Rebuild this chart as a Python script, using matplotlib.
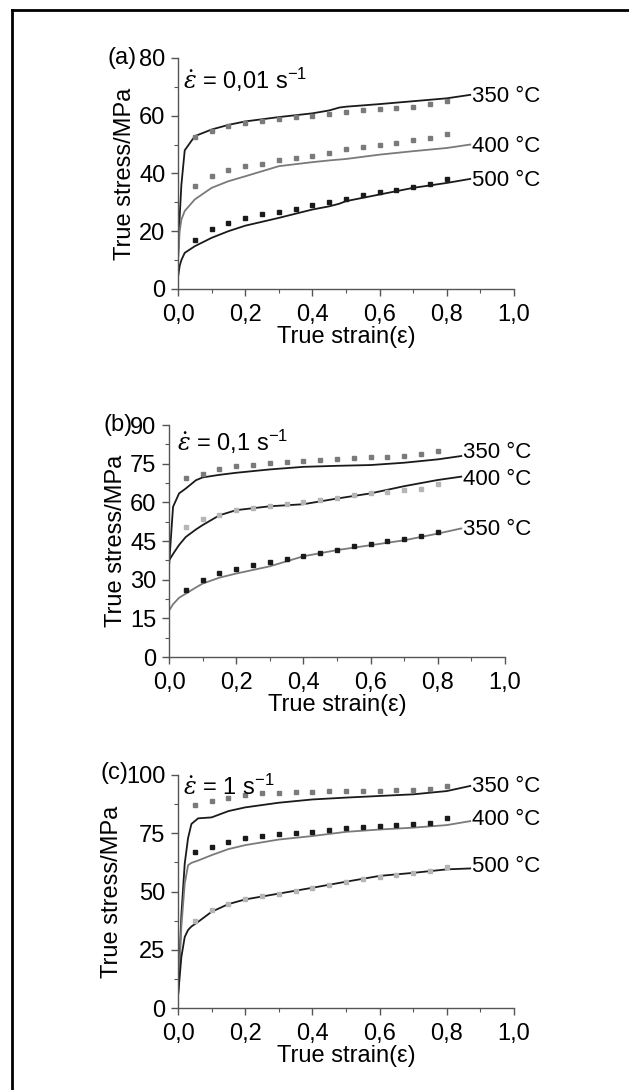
import matplotlib
matplotlib.use("Agg")
import matplotlib.pyplot as plt
from matplotlib.ticker import MultipleLocator, FuncFormatter
from matplotlib.lines import Line2D

plt.rcParams['font.family'] = ['Liberation Sans', 'DejaVu Sans']
plt.rcParams['mathtext.fontset'] = 'dejavuserif'

# experimental points (squares), same strain grid for all panels
strain_pts = [0.05, 0.10, 0.15, 0.20, 0.25, 0.30, 0.35, 0.40,
              0.45, 0.50, 0.55, 0.60, 0.65, 0.70, 0.75, 0.80]

# ---- panel (a): 0,01 s-1
a_line_x = [0.0, 0.005, 0.01, 0.02, 0.05, 0.10, 0.15, 0.20, 0.30, 0.40, 0.45, 0.48, 0.50, 0.60, 0.70, 0.80, 0.87]
a_350_line = [10, 25, 36, 48, 52.9, 55.2, 56.8, 58.0, 59.5, 60.8, 61.8, 62.8, 63.1, 64.0, 65.0, 66.0, 67.2]
a_400_line = [10, 20, 24, 27, 31.0, 35.0, 37.3, 39.0, 42.5, 43.9, 44.5, 44.8, 45.0, 46.5, 47.7, 48.8, 50.0]
a_500_line = [4, 8, 10, 12.5, 14.8, 17.7, 20.0, 21.9, 24.6, 27.5, 28.6, 29.5, 30.4, 32.7, 35.0, 36.7, 38.1]
a_350_pts = [52.7, 54.6, 56.4, 57.5, 58.3, 58.9, 59.5, 60.0, 60.6, 61.3, 61.9, 62.4, 62.7, 63.0, 63.9, 65.2]
a_400_pts = [35.6, 39.0, 41.1, 42.5, 43.4, 44.5, 45.4, 46.2, 47.1, 48.3, 49.0, 49.8, 50.6, 51.4, 52.1, 53.5]
a_500_pts = [17.1, 20.6, 22.9, 24.4, 25.8, 26.7, 27.7, 29.0, 30.1, 31.3, 32.7, 33.6, 34.4, 35.3, 36.4, 37.9]
a_label_y = [66.5, 49.4, 37.6]

# ---- panel (b): 0,1 s-1
b_line_x = [0.0, 0.005, 0.012, 0.03, 0.05, 0.08, 0.10, 0.15, 0.20, 0.30, 0.40, 0.50, 0.60, 0.70, 0.80, 0.87]
b_350_line = [35, 45, 58.3, 63.5, 65.4, 68.6, 69.7, 70.7, 71.5, 72.8, 73.8, 74.2, 74.5, 75.4, 76.7, 78.0]
b_400_line = [37.6, 38.5, 40.0, 43.5, 46.6, 49.5, 51.2, 55.0, 57.0, 58.5, 59.3, 61.5, 63.5, 66.3, 68.7, 70.0]
b_350b_line = [18.1, 19.0, 20.5, 23.0, 24.6, 27.0, 28.5, 30.8, 32.4, 35.2, 39.1, 41.5, 43.4, 45.3, 47.9, 49.9]
b_350_pts = [69.3, 71.2, 72.8, 74.1, 74.7, 75.4, 75.6, 76.0, 76.4, 76.8, 77.2, 77.5, 77.7, 78.0, 78.6, 79.9]
b_400_pts = [50.5, 53.4, 55.3, 57.0, 58.0, 58.7, 59.3, 60.1, 61.1, 61.9, 62.8, 63.5, 64.1, 64.8, 65.4, 67.1]
b_350b_pts = [25.9, 29.8, 32.6, 34.3, 35.9, 36.7, 38.0, 39.1, 40.4, 41.7, 43.1, 44.0, 44.9, 45.7, 46.9, 48.6]
b_label_y = [79.5, 68.9, 49.5]

# ---- panel (c): 1 s-1
c_line_x = [0.0, 0.01, 0.02, 0.03, 0.04, 0.06, 0.10, 0.15, 0.20, 0.30, 0.40, 0.50, 0.60, 0.70, 0.80, 0.87]
c_350_line = [5, 40, 62, 73, 79, 81.4, 81.8, 84.5, 86.1, 88.1, 89.5, 90.3, 91.0, 91.7, 93.1, 95.3]
c_400_line = [5, 35, 53.4, 61.3, 62.3, 63.3, 65.6, 68.2, 69.9, 72.3, 73.8, 75.6, 76.6, 77.4, 78.5, 80.2]
c_500_line = [5, 21.9, 30.5, 33.5, 35.0, 37.0, 41.3, 44.6, 46.6, 49.1, 51.6, 54.2, 56.7, 58.0, 59.5, 59.9]
c_350_pts = [87.1, 88.8, 90.3, 91.4, 92.1, 92.4, 92.7, 92.8, 93.0, 93.1, 93.3, 93.3, 93.4, 93.4, 93.8, 95.3]
c_400_pts = [66.8, 69.2, 71.3, 72.8, 73.8, 74.5, 75.2, 75.6, 76.6, 77.4, 77.8, 78.2, 78.5, 78.9, 79.5, 81.4]
c_500_pts = [37.4, 42.0, 44.8, 46.7, 48.0, 49.1, 50.3, 51.3, 52.7, 53.9, 55.3, 56.3, 57.0, 58.0, 58.7, 60.6]
c_label_y = [95.0, 81.0, 60.6]

BLACK = '#1a1a1a'
GRAY = '#7a7a7a'
LGRAY = '#b5b5b5'

panels = [
    dict(pos=[0.283, 0.7349, 0.534, 0.212], tag='(a)', tag_x=-0.122, tag_y=1.0,
         ymax=80, ystep=20, rate='0,01', rate_xy=(0.015, 0.905), x=a_line_x, label_y=a_label_y,
         curves=[(a_350_line, BLACK, a_350_pts, GRAY, '350 °C'),
                 (a_400_line, GRAY, a_400_pts, GRAY, '400 °C'),
                 (a_500_line, BLACK, a_500_pts, BLACK, '500 °C')]),
    dict(pos=[0.2687, 0.3972, 0.534, 0.2128], tag='(b)', tag_x=-0.107, tag_y=1.0,
         ymax=90, ystep=15, rate='0,1', rate_xy=(0.024, 0.927), x=b_line_x, label_y=b_label_y,
         curves=[(b_350_line, BLACK, b_350_pts, GRAY, '350 °C'),
                 (b_400_line, BLACK, b_400_pts, LGRAY, '400 °C'),
                 (b_350b_line, GRAY, b_350b_pts, BLACK, '350 °C')]),
    dict(pos=[0.283, 0.0752, 0.534, 0.2138], tag='(c)', tag_x=-0.149, tag_y=1.01,
         ymax=100, ystep=25, rate='1', rate_xy=(0.015, 0.948), x=c_line_x, label_y=c_label_y,
         curves=[(c_350_line, BLACK, c_350_pts, GRAY, '350 °C'),
                 (c_400_line, GRAY, c_400_pts, BLACK, '400 °C'),
                 (c_500_line, BLACK, c_500_pts, LGRAY, '500 °C')]),
]

comma = FuncFormatter(lambda v, p: ('%.1f' % v).replace('.', ','))

fig = plt.figure(figsize=(6.29, 10.9), dpi=100)

# partial frame (top and left) like the scanned figure
fig.add_artist(Line2D([0.019, 1.0], [0.991, 0.991], color='black', lw=2.0, transform=fig.transFigure))
fig.add_artist(Line2D([0.019, 0.019], [0.0, 0.991], color='black', lw=2.0, transform=fig.transFigure))

for p in panels:
    ax = fig.add_axes(p['pos'])
    for (line_y, lc, pts_y, pc, lab), ly in zip(p['curves'], p['label_y']):
        ax.plot(p['x'], line_y, color=lc, lw=1.3)
        ax.plot(strain_pts, pts_y, ls='none', marker='s', ms=2.8, color=pc, mec=pc)
        ax.text(0.875, ly, lab, fontsize=16, va='center', ha='left', clip_on=False)

    ax.set_xlim(0, 1.0)
    ax.set_ylim(0, p['ymax'])
    ax.xaxis.set_major_locator(MultipleLocator(0.2))
    ax.xaxis.set_minor_locator(MultipleLocator(0.1))
    ax.yaxis.set_major_locator(MultipleLocator(p['ystep']))
    ax.yaxis.set_minor_locator(MultipleLocator(p['ystep'] / 2))
    ax.xaxis.set_major_formatter(comma)
    for s in ['top', 'right']:
        ax.spines[s].set_visible(False)
    for s in ['left', 'bottom']:
        ax.spines[s].set_color('#555555')
        ax.spines[s].set_linewidth(1.0)
    ax.tick_params(which='major', direction='out', length=5, width=1.0, color='#555555',
                   labelsize=17, pad=4)
    ax.tick_params(axis='x', which='major', pad=6)
    ax.tick_params(which='minor', direction='out', length=3, width=0.8, color='#555555')
    ax.set_xlabel('True strain(ε)', fontsize=17, labelpad=0)
    ax.set_ylabel('True stress/MPa', fontsize=17, labelpad=2)

    ax.text(p['rate_xy'][0], p['rate_xy'][1],
            r'$\dot{\varepsilon}$' + ' = ' + p['rate'] + ' s$^{\\mathregular{-1}}$',
            transform=ax.transAxes, fontsize=17, va='center', ha='left')
    ax.text(p['tag_x'], p['tag_y'], p['tag'], transform=ax.transAxes, fontsize=17,
            va='center', ha='right')

fig.savefig('out.png', dpi=100)
